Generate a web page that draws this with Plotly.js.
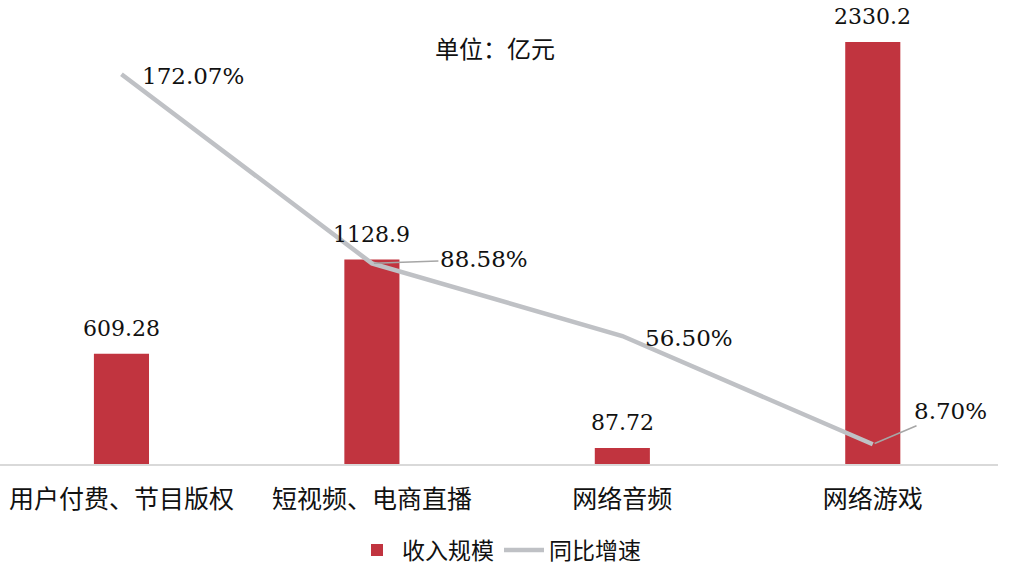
<!DOCTYPE html>
<html>
<head>
<meta charset="utf-8">
<script src="https://cdn.plot.ly/plotly-3.0.1.min.js"></script>
<style>
  html, body { margin: 0; padding: 0; background: #fff; }
  #chart { width: 1012px; height: 573px; }
</style>
</head>
<body>
<div id="chart"></div>
<script>
// 分类与数据
const categorias = ["用户付费、节目版权", "短视频、电商直播", "网络音频", "网络游戏"];
const receita = [609.28, 1128.9, 87.72, 2330.2];       // 收入规模（亿元）
const crescimento = [172.07, 88.58, 56.50, 8.70];      // 同比增速（%）
const rotulosReceita = ["609.28", "1128.9", "87.72", "2330.2"];
const rotulosCrescimento = ["172.07%", "88.58%", "56.50%", "8.70%"];

const COR_BARRA = "#C1343F";
const COR_LINHA = "#BFC1C5";
const FONTE_NUM = "DejaVu Serif, Liberation Serif, serif";
const FONTE_CJK = "Noto Sans CJK SC, sans-serif";

const data = [
  {
    type: "bar",
    name: "收入规模",
    x: categorias,
    y: receita,
    width: 0.22,
    marker: { color: COR_BARRA },
    hoverinfo: "skip"
  },
  {
    type: "scatter",
    mode: "lines",
    name: "同比增速",
    x: categorias,
    y: crescimento,
    yaxis: "y2",
    line: { color: COR_LINHA, width: 4.5 },
    hoverinfo: "skip"
  }
];

// 标签位置（像素偏移）
const desvioLinha = [
  { xanchor: "left", xshift: 19, yshift: -2, seta: false },
  { seta: true, ax: 112, ay: -4 },
  { xanchor: "left", xshift: 21, yshift: -2, seta: false },
  { seta: true, ax: 78, ay: -33 }
];

const annotations = [];

categorias.forEach((c, i) => {
  annotations.push({
    x: c, y: receita[i], xref: "x", yref: "y",
    text: rotulosReceita[i],
    showarrow: false,
    yanchor: "bottom", yshift: 11,
    font: { family: FONTE_NUM, size: 22, color: "#111" }
  });

  const d = desvioLinha[i];
  const a = {
    x: c, y: crescimento[i], xref: "x", yref: "y2",
    text: rotulosCrescimento[i],
    font: { family: FONTE_NUM, size: 23, color: "#111" }
  };
  if (d.seta) {
    Object.assign(a, {
      showarrow: true, arrowhead: 0, arrowwidth: 1.5, arrowcolor: "#A6A6A6",
      ax: d.ax, ay: d.ay, standoff: 2
    });
  } else {
    Object.assign(a, { showarrow: false, xanchor: d.xanchor, xshift: d.xshift, yshift: d.yshift });
  }
  annotations.push(a);
});

annotations.push({
  xref: "paper", yref: "paper", x: 0.496, y: 0.937,
  xanchor: "center", yanchor: "middle",
  text: "单位：亿元", showarrow: false,
  font: { family: FONTE_CJK, size: 24, color: "#111" }
});

const layout = {
  width: 1012,
  height: 573,
  margin: { l: 0, r: 14, t: 20, b: 109 },
  paper_bgcolor: "#fff",
  plot_bgcolor: "#fff",
  showlegend: true,
  legend: {
    orientation: "h", x: 0.5, xanchor: "center", y: -0.194, yanchor: "middle",
    font: { family: FONTE_CJK, size: 23, color: "#111" },
    itemwidth: 40
  },
  xaxis: {
    type: "category",
    range: [-0.485, 3.5],
    showline: true, linecolor: "#D9D9D9", linewidth: 1.5,
    showgrid: false, zeroline: false, ticks: "",
    ticklabelstandoff: 12,
    tickfont: { family: FONTE_CJK, size: 25, color: "#111" }
  },
  yaxis: {
    range: [0, 2452], visible: false, showgrid: false, zeroline: false
  },
  yaxis2: {
    range: [0, 196], overlaying: "y", side: "right",
    visible: false, showgrid: false, zeroline: false
  },
  annotations: annotations
};

Plotly.newPlot("chart", data, layout, { displayModeBar: false, staticPlot: true });
</script>
</body>
</html>
